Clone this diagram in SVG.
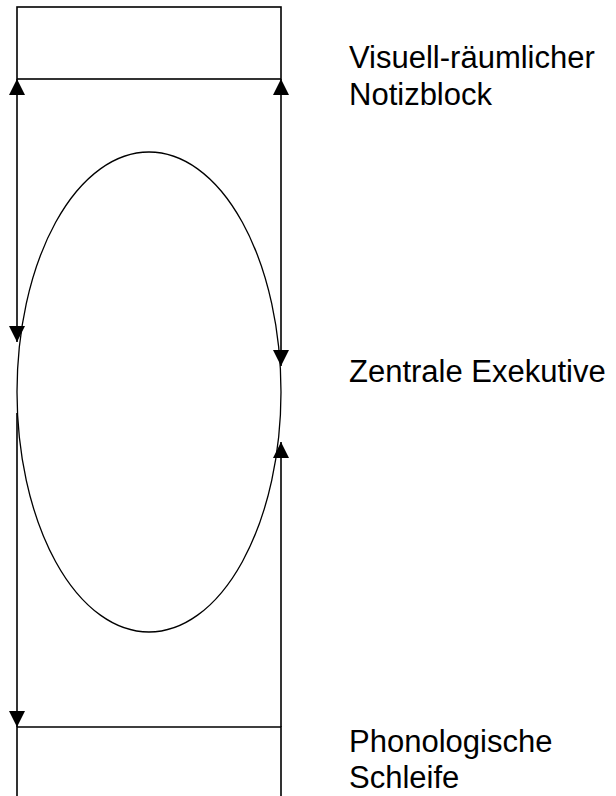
<svg xmlns="http://www.w3.org/2000/svg" width="616" height="796" viewBox="0 0 616 796">
<style>
.box{fill:none;stroke:#000;stroke-width:1.6}
.con{fill:none;stroke:#000;stroke-width:1.6}
.ell{fill:none;stroke:#000;stroke-width:1.3}
.lbl{font-family:"Liberation Sans",Arial,sans-serif;font-size:31px;fill:#000}
</style>
<defs>
<marker id="ah" markerUnits="userSpaceOnUse" markerWidth="16" markerHeight="16" viewBox="0 0 16 16" refX="16" refY="8" orient="auto-start-reverse">
<path d="M0,0 L16,8 L0,16 Z" fill="#000"/>
</marker>
</defs>
<rect width="616" height="796" fill="#fff"/>
<g id="visuell">
<rect class="box" x="17" y="7" width="264" height="72"/>
<text class="lbl" x="349" y="68">Visuell-räumlicher</text>
<text class="lbl" x="349" y="105">Notizblock</text>
</g>
<g id="zentrale">
<ellipse class="ell" cx="149" cy="392" rx="132" ry="240"/>
<text class="lbl" x="349" y="382">Zentrale Exekutive</text>
</g>
<g id="phonologisch">
<path class="box" d="M17,800 L17,727 L281,727 L281,800"/>
<text class="lbl" x="349" y="752">Phonologische</text>
<text class="lbl" x="349" y="788">Schleife</text>
</g>
<g id="connectors">
<line class="con" x1="17" y1="79" x2="17" y2="342" marker-start="url(#ah)" marker-end="url(#ah)"/>
<line class="con" x1="281" y1="79" x2="281" y2="366" marker-start="url(#ah)" marker-end="url(#ah)"/>
<line class="con" x1="17" y1="413" x2="17" y2="727" marker-end="url(#ah)"/>
<line class="con" x1="281" y1="442" x2="281" y2="727" marker-start="url(#ah)"/>
</g>
</svg>
